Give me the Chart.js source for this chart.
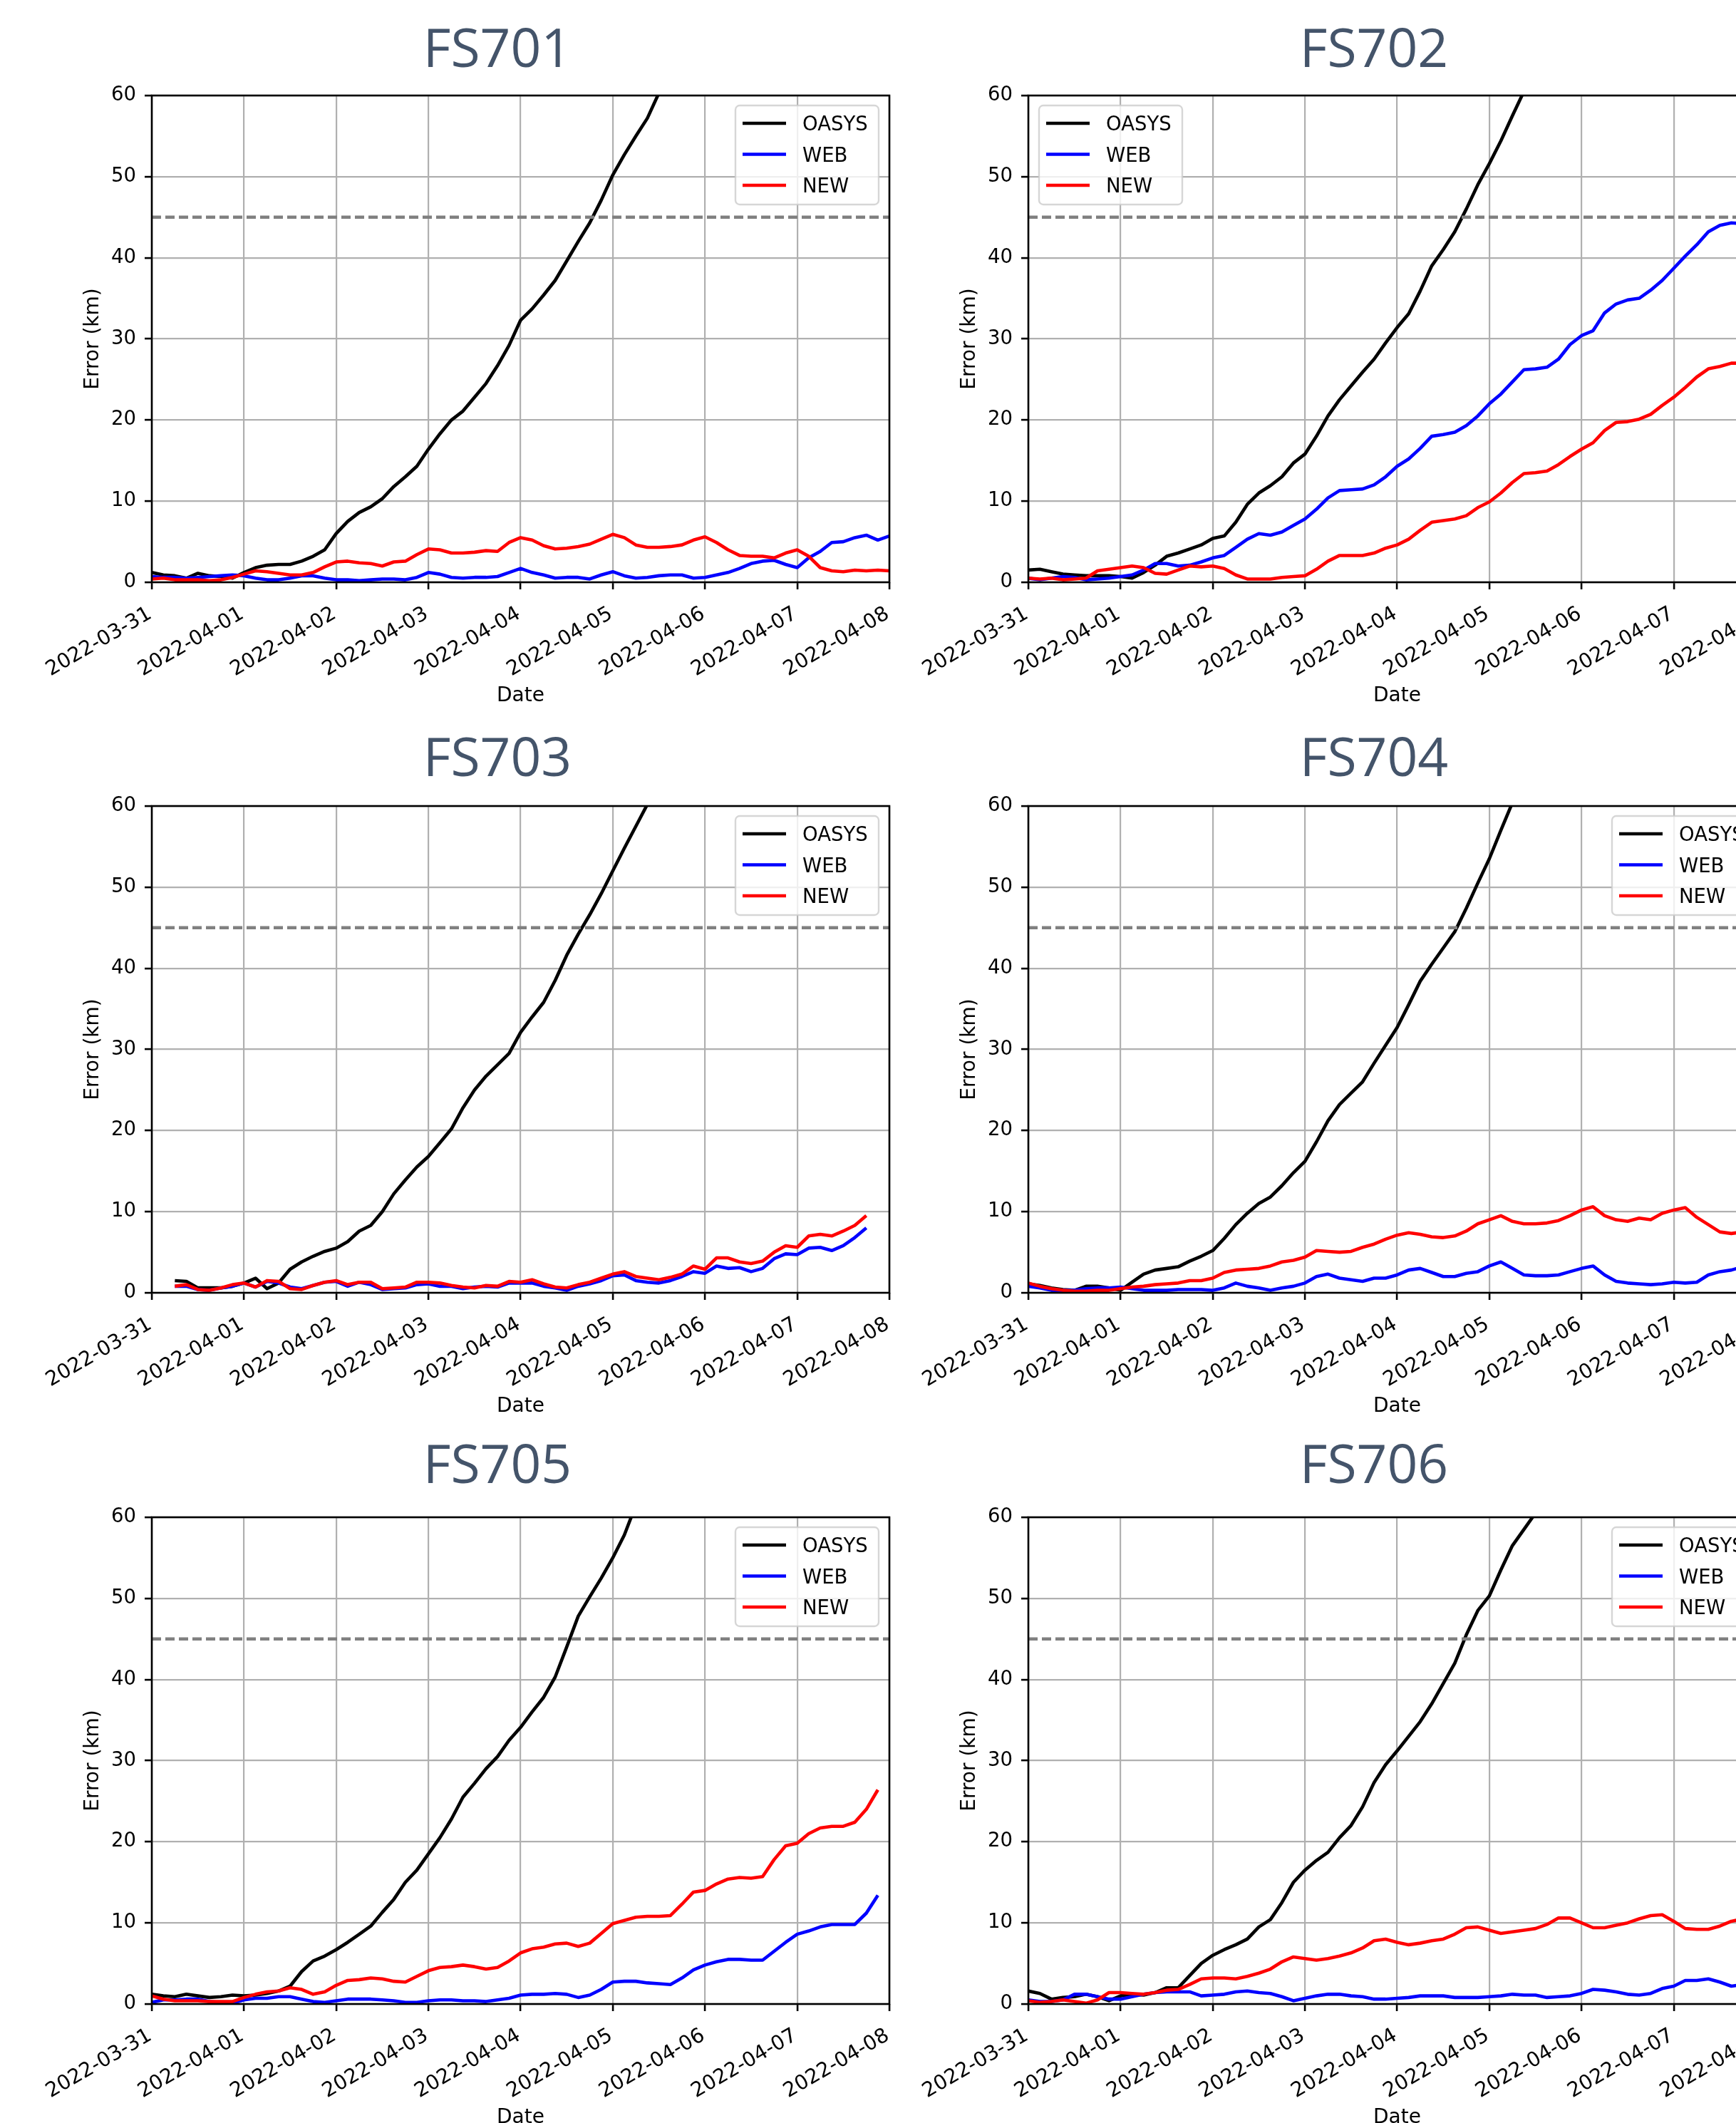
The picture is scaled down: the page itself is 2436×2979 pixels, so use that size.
<!DOCTYPE html>
<html>
<head>
<meta charset="utf-8">
<script src="https://cdn.jsdelivr.net/npm/chart.js@4.4.1/dist/chart.umd.min.js"></script>
<style>
html, body { margin:0; padding:0; background:#ffffff; overflow:hidden; width:2436px; height:2979px; }
body { position:relative; }
canvas { position:absolute; }
</style>
</head>
<body>
<canvas id="c701"></canvas>
<canvas id="c702"></canvas>
<canvas id="c703"></canvas>
<canvas id="c704"></canvas>
<canvas id="c705"></canvas>
<canvas id="c706"></canvas>
<script>
// ---------- DATA ----------
// time axis: hours since 2022-03-31 00:00, one sample every 3 h
const hours = [0,3,6,9,12,15,18,21, 24,27,30,33,36,39,42,45, 48,51,54,57,60,63,66,69,
  72,75,78,81,84,87,90,93, 96,99,102,105,108,111,114,117, 120,123,126,129,132,135,138,141,
  144,147,150,153,156,159,162,165, 168,171,174,177,180,183,186,189, 192];
const dayTickLabels = ['2022-03-31','2022-04-01','2022-04-02','2022-04-03','2022-04-04',
  '2022-04-05','2022-04-06','2022-04-07','2022-04-08'];
const seriesNames = ['OASYS','WEB','NEW'];
const panelTitles = ['FS701','FS702','FS703','FS704','FS705','FS706'];
const thresholdKm = 45;
const N = null;

const fs701_oasys = [1.2,0.9,0.8,0.5,1.1,0.8,0.7,0.5, 1.2,1.8,2.1,2.2,2.2,2.6,3.2,4.0,
  6.0,7.5,8.6,9.3,10.3,11.8,13.0,14.3, 16.4,18.3,20.0,21.1,22.8,24.5,26.7,29.2,
  32.3,33.7,35.4,37.2,39.6,42.0,44.3,47.1, 50.2,52.7,55.0,57.2,60.3,63.0,N,N,
  N,N,N,N,N,N,N,N, N,N,N,N,N,N,N,N, N];
const fs701_web = [0.7,0.6,0.6,0.5,0.6,0.7,0.8,0.9, 0.8,0.5,0.3,0.3,0.5,0.8,0.8,0.5,
  0.3,0.3,0.2,0.3,0.4,0.4,0.3,0.6, 1.2,1.0,0.6,0.5,0.6,0.6,0.7,1.2,
  1.7,1.2,0.9,0.5,0.6,0.6,0.4,0.9, 1.3,0.8,0.5,0.6,0.8,0.9,0.9,0.5,
  0.6,0.9,1.2,1.7,2.3,2.6,2.7,2.2, 1.8,3.0,3.8,4.9,5.0,5.5,5.8,5.2, 5.7];
const fs701_new = [0.4,0.5,0.3,0.3,0.3,0.2,0.3,0.6, 1.0,1.4,1.3,1.1,0.9,0.9,1.2,1.9,
  2.5,2.6,2.4,2.3,2.0,2.5,2.6,3.4, 4.1,4.0,3.6,3.6,3.7,3.9,3.8,4.9,
  5.5,5.2,4.5,4.1,4.2,4.4,4.7,5.3, 5.9,5.5,4.6,4.3,4.3,4.4,4.6,5.2,
  5.6,4.9,4.0,3.3,3.2,3.2,3.0,3.6, 4.0,3.2,1.8,1.4,1.3,1.5,1.4,1.5, 1.4];

const fs702_oasys = [1.5,1.6,1.3,1.0,0.9,0.8,0.8,0.8, 0.7,0.5,1.2,2.1,3.2,3.6,4.1,4.6,
  5.4,5.7,7.4,9.6,11.0,11.9,13.0,14.7, 15.8,18.0,20.5,22.5,24.2,25.9,27.5,29.5,
  31.4,33.1,35.9,39.0,41.0,43.2,46.0,49.0, 51.6,54.4,57.5,60.5,63.0,N,N,N,
  N,N,N,N,N,N,N,N, N,N,N,N,N,N,N,N, N];
const fs702_web = [0.5,0.3,0.5,0.7,0.6,0.3,0.4,0.5, 0.7,0.9,1.5,2.3,2.3,2.0,2.1,2.5,
  3.0,3.3,4.3,5.3,6.0,5.8,6.2,7.0, 7.8,9.0,10.4,11.3,11.4,11.5,12.0,13.0,
  14.3,15.2,16.5,18.0,18.2,18.5,19.3,20.5, 22.0,23.2,24.7,26.2,26.3,26.5,27.5,29.3,
  30.4,31.0,33.2,34.3,34.8,35.0,36.0,37.2, 38.7,40.2,41.6,43.2,44.0,44.3,44.2,44.6, 45.0];
const fs702_new = [0.5,0.4,0.5,0.3,0.4,0.5,1.4,1.6, 1.8,2.0,1.8,1.1,1.0,1.5,2.0,1.9,
  2.0,1.7,0.9,0.4,0.4,0.4,0.6,0.7, 0.8,1.6,2.6,3.3,3.3,3.3,3.6,4.2,
  4.6,5.3,6.4,7.4,7.6,7.8,8.2,9.2, 9.9,11.0,12.3,13.4,13.5,13.7,14.5,15.5,
  16.4,17.2,18.7,19.7,19.8,20.1,20.7,21.8, 22.8,24.0,25.3,26.3,26.6,27.0,27.0,27.4, 27.8];

const fs703_oasys = [N,N,1.5,1.4,0.6,0.6,0.6,0.8, 1.2,1.8,0.5,1.2,2.9,3.8,4.5,5.1,
  5.5,6.3,7.6,8.3,10.0,12.2,13.9,15.5, 16.8,18.5,20.2,22.8,25.0,26.7,28.1,29.5,
  32.1,34.0,35.8,38.5,41.6,44.2,46.6,49.2, 52.0,54.8,57.5,60.2,63.0,N,N,N,
  N,N,N,N,N,N,N,N, N,N,N,N,N,N,N,N, N];
const fs703_web = [N,N,0.8,0.8,0.4,0.3,0.6,0.8, 1.2,0.7,1.4,1.2,0.7,0.5,0.9,1.3,
  1.4,0.8,1.3,1.0,0.4,0.5,0.6,1.0, 1.1,0.8,0.8,0.5,0.7,0.8,0.7,1.2,
  1.2,1.2,0.8,0.6,0.3,0.8,1.1,1.5, 2.1,2.2,1.5,1.3,1.2,1.5,2.0,2.6,
  2.4,3.3,3.0,3.1,2.6,3.0,4.2,4.8, 4.7,5.5,5.6,5.2,5.8,6.8,8.0,N, N];
const fs703_new = [N,N,0.8,1.0,0.4,0.3,0.6,1.0, 1.2,0.7,1.5,1.4,0.5,0.4,0.9,1.3,
  1.5,1.0,1.3,1.3,0.5,0.6,0.7,1.3, 1.3,1.2,0.9,0.7,0.6,0.9,0.8,1.4,
  1.3,1.6,1.1,0.7,0.6,1.0,1.3,1.8, 2.3,2.6,2.0,1.8,1.6,1.9,2.3,3.3,
  2.9,4.3,4.3,3.8,3.6,3.9,5.0,5.8, 5.6,7.0,7.2,7.0,7.6,8.3,9.5,N, N];

const fs704_oasys = [1.1,0.9,0.6,0.4,0.3,0.8,0.8,0.6, 0.3,1.3,2.3,2.8,3.0,3.2,3.9,4.5,
  5.2,6.7,8.4,9.8,11.0,11.8,13.2,14.8, 16.2,18.6,21.2,23.2,24.6,26.0,28.3,30.5,
  32.7,35.5,38.4,40.5,42.5,44.5,47.4,50.5, 53.5,57.0,60.4,63.0,N,N,N,N,
  N,N,N,N,N,N,N,N, N,N,N,N,N,N,N,N, N];
const fs704_web = [0.8,0.6,0.3,0.3,0.3,0.5,0.6,0.6, 0.7,0.5,0.3,0.3,0.3,0.4,0.4,0.4,
  0.3,0.6,1.2,0.8,0.6,0.3,0.6,0.8, 1.2,2.0,2.3,1.8,1.6,1.4,1.8,1.8,
  2.2,2.8,3.0,2.5,2.0,2.0,2.4,2.6, 3.3,3.8,3.0,2.2,2.1,2.1,2.2,2.6,
  3.0,3.3,2.2,1.4,1.2,1.1,1.0,1.1, 1.3,1.2,1.3,2.2,2.6,2.8,3.2,3.5, 3.5];
const fs704_new = [1.2,0.8,0.5,0.3,0.2,0.2,0.3,0.3, 0.5,0.7,0.8,1.0,1.1,1.2,1.5,1.5,
  1.8,2.5,2.8,2.9,3.0,3.3,3.8,4.0, 4.4,5.2,5.1,5.0,5.1,5.6,6.0,6.6,
  7.1,7.4,7.2,6.9,6.8,7.0,7.6,8.5, 9.0,9.5,8.8,8.5,8.5,8.6,8.9,9.5,
  10.2,10.6,9.5,9.0,8.8,9.2,9.0,9.8, 10.2,10.5,9.3,8.4,7.5,7.3,7.5,7.3, 7.6];

const fs705_oasys = [1.2,1.0,0.9,1.2,1.0,0.8,0.9,1.1, 1.0,1.1,1.3,1.6,2.2,4.0,5.3,5.9,
  6.7,7.6,8.6,9.6,11.3,12.9,15.0,16.5, 18.5,20.5,22.8,25.5,27.2,29.0,30.5,32.5,
  34.1,36.0,37.8,40.3,44.0,47.8,50.2,52.5, 55.0,57.8,61.5,N,N,N,N,N,
  N,N,N,N,N,N,N,N, N,N,N,N,N,N,N,N, N];
const fs705_web = [0.2,0.5,0.5,0.6,0.6,0.3,0.2,0.1, 0.5,0.7,0.7,0.9,0.9,0.6,0.3,0.2,
  0.4,0.6,0.6,0.6,0.5,0.4,0.2,0.2, 0.4,0.5,0.5,0.4,0.4,0.3,0.5,0.7,
  1.1,1.2,1.2,1.3,1.2,0.8,1.1,1.8, 2.7,2.8,2.8,2.6,2.5,2.4,3.2,4.2,
  4.8,5.2,5.5,5.5,5.4,5.4,6.5,7.6, 8.6,9.0,9.5,9.8,9.8,9.8,11.2,13.4, N];
const fs705_new = [1.0,0.6,0.4,0.4,0.4,0.3,0.3,0.3, 0.8,1.2,1.5,1.6,2.0,1.8,1.2,1.5,
  2.3,2.9,3.0,3.2,3.1,2.8,2.7,3.4, 4.1,4.5,4.6,4.8,4.6,4.3,4.5,5.3,
  6.3,6.8,7.0,7.4,7.5,7.1,7.5,8.7, 9.9,10.3,10.7,10.8,10.8,10.9,12.3,13.8,
  14.0,14.8,15.4,15.6,15.5,15.7,17.8,19.5, 19.8,21.0,21.7,21.9,21.9,22.4,24.0,26.4, N];

const fs706_oasys = [1.6,1.3,0.6,0.8,0.9,1.2,0.9,0.4, 1.0,1.2,1.1,1.4,2.0,2.0,3.5,5.0,
  6.0,6.7,7.3,8.0,9.5,10.4,12.5,15.0, 16.5,17.7,18.7,20.5,22.0,24.3,27.3,29.5,
  31.2,33.0,34.8,37.0,39.5,42.0,45.5,48.5, 50.3,53.5,56.5,58.5,60.5,63.0,N,N,
  N,N,N,N,N,N,N,N, N,N,N,N,N,N,N,N, N];
const fs706_web = [0.5,0.3,0.3,0.5,1.2,1.2,0.9,0.6, 0.6,0.9,1.2,1.4,1.5,1.5,1.5,1.0,
  1.1,1.2,1.5,1.6,1.4,1.3,0.9,0.4, 0.7,1.0,1.2,1.2,1.0,0.9,0.6,0.6,
  0.7,0.8,1.0,1.0,1.0,0.8,0.8,0.8, 0.9,1.0,1.2,1.1,1.1,0.8,0.9,1.0,
  1.3,1.8,1.7,1.5,1.2,1.1,1.3,1.9, 2.2,2.9,2.9,3.1,2.7,2.2,2.4,2.6, 2.5];
const fs706_new = [0.4,0.2,0.3,0.5,0.3,0.1,0.5,1.4, 1.4,1.3,1.2,1.4,1.7,1.8,2.4,3.1,
  3.2,3.2,3.1,3.4,3.8,4.3,5.2,5.8, 5.6,5.4,5.6,5.9,6.3,6.9,7.8,8.0,
  7.6,7.3,7.5,7.8,8.0,8.6,9.4,9.5, 9.1,8.7,8.9,9.1,9.3,9.8,10.6,10.6,
  10.0,9.4,9.4,9.7,10.0,10.5,10.9,11.0, 10.2,9.3,9.2,9.2,9.6,10.2,10.5,10.8, 11.0];

// ---------- LAYOUT / STYLE ----------
const seriesColors = ['#000000', '#0000ff', '#ff0000'];
const CW = 1290, CH = 990;
const colLeft = [0, 1230];
const rowTop = [0, 997, 1995];
const titleBaseline = [94, 92, 86];

const panels = [
  { id:'c701', title:panelTitles[0], col:0, row:0, legend:'right', series:[fs701_oasys, fs701_web, fs701_new] },
  { id:'c702', title:panelTitles[1], col:1, row:0, legend:'left',  series:[fs702_oasys, fs702_web, fs702_new] },
  { id:'c703', title:panelTitles[2], col:0, row:1, legend:'right', series:[fs703_oasys, fs703_web, fs703_new] },
  { id:'c704', title:panelTitles[3], col:1, row:1, legend:'right', series:[fs704_oasys, fs704_web, fs704_new] },
  { id:'c705', title:panelTitles[4], col:0, row:2, legend:'right', series:[fs705_oasys, fs705_web, fs705_new] },
  { id:'c706', title:panelTitles[5], col:1, row:2, legend:'right', series:[fs706_oasys, fs706_web, fs706_new] }
];

const XTICK_FONT = '28.5px "DejaVu Sans"';
const LEGEND_FONT = '27.5px "DejaVu Sans"';
const LABEL_FONT = '28px "DejaVu Sans"';

const mplDecor = {
  id: 'mplDecor',
  afterDraw(chart) {
    const o = chart.options.plugins.mplDecor;
    const ctx = chart.ctx, a = chart.chartArea, xs = chart.scales.x;
    ctx.save();
    // frame (spines)
    ctx.strokeStyle = '#000'; ctx.lineWidth = 2.6;
    ctx.strokeRect(a.left, a.top, a.right - a.left, a.bottom - a.top);

    // x tick labels, rotated 30 degrees, right-aligned at the tick
    ctx.fillStyle = '#000'; ctx.font = XTICK_FONT;
    dayTickLabels.forEach((lab, i) => {
      const x = xs.getPixelForValue(i * 24);
      ctx.save();
      ctx.translate(x - 9, a.bottom + 31);
      ctx.rotate(-Math.PI / 6);
      ctx.textAlign = 'right'; ctx.textBaseline = 'alphabetic';
      ctx.fillText(lab, 0, 20.8);
      ctx.restore();
    });

    // axis titles
    ctx.font = LABEL_FONT; ctx.textAlign = 'center'; ctx.textBaseline = 'alphabetic';
    ctx.fillText('Date', (a.left + a.right) / 2, a.bottom + 167);
    ctx.save();
    ctx.translate(138, (a.top + a.bottom) / 2);
    ctx.rotate(-Math.PI / 2);
    ctx.fillText('Error (km)', 0, 0);
    ctx.restore();

    // legend
    const lw = 201, lh = 139;
    const lx = o.legend === 'left' ? a.left + 15 : a.right - 15 - lw;
    const ly = a.top + 14;
    ctx.beginPath();
    if (ctx.roundRect) ctx.roundRect(lx, ly, lw, lh, 6); else ctx.rect(lx, ly, lw, lh);
    ctx.fillStyle = 'rgba(255,255,255,0.8)'; ctx.fill();
    ctx.strokeStyle = 'rgba(204,204,204,0.8)'; ctx.lineWidth = 2.4; ctx.stroke();
    ctx.font = LEGEND_FONT; ctx.textAlign = 'left'; ctx.textBaseline = 'alphabetic';
    seriesNames.forEach((name, k) => {
      const y = ly + 25 + k * 43.5;
      ctx.strokeStyle = seriesColors[k]; ctx.lineWidth = 4.5;
      ctx.beginPath(); ctx.moveTo(lx + 10, y); ctx.lineTo(lx + 71, y); ctx.stroke();
      ctx.fillStyle = '#000';
      ctx.fillText(name, lx + 94, y + 10);
    });

    // panel title
    ctx.fillStyle = '#44546A'; ctx.font = '75px "Open Sans"';
    ctx.textAlign = 'center'; ctx.textBaseline = 'alphabetic';
    ctx.fillText(o.title, 698, o.titleBaseline);
    ctx.restore();
  }
};

function gridOpts() {
  return { color:'#b0b0b0', lineWidth:2.2, tickColor:'#000', tickLength:10, tickWidth:2.6, drawTicks:true };
}

panels.forEach(p => {
  const cv = document.getElementById(p.id);
  cv.width = CW; cv.height = CH;
  cv.style.left = colLeft[p.col] + 'px';
  cv.style.top = rowTop[p.row] + 'px';
  const datasets = p.series.map((vals, k) => ({
    label: seriesNames[k],
    data: hours.map((h, i) => ({ x: h, y: vals[i] })),
    borderColor: seriesColors[k],
    backgroundColor: seriesColors[k],
    borderWidth: 4.6,
    pointRadius: 0,
    tension: 0,
    fill: false,
    spanGaps: false,
    borderJoinStyle: 'round',
    clip: 0,
    order: 3 - k
  }));
  datasets.push({
    label: 'threshold',
    data: [{ x: hours[0], y: thresholdKm }, { x: hours[hours.length - 1], y: thresholdKm }],
    borderColor: '#808080',
    borderWidth: 4.6,
    borderDash: [13, 6],
    pointRadius: 0,
    fill: false,
    clip: 0,
    order: 0
  });
  new Chart(cv, {
    type: 'line',
    data: { datasets },
    plugins: [mplDecor],
    options: {
      responsive: false,
      animation: false,
      devicePixelRatio: 1,
      events: [],
      layout: { padding: { top: 134, right: CW - 1248, bottom: 0, left: 0 } },
      plugins: {
        legend: { display: false },
        tooltip: { enabled: false },
        title: { display: false },
        mplDecor: { title: p.title, legend: p.legend, titleBaseline: titleBaseline[p.row] }
      },
      scales: {
        x: {
          type: 'linear', min: 0, max: 192,
          afterFit: s => { s.height = CH - 817; },
          afterBuildTicks: s => { s.ticks = dayTickLabels.map((_, i) => ({ value: i * 24 })); },
          ticks: { display: false, stepSize: 24 },
          grid: gridOpts(),
          border: { display: false }
        },
        y: {
          type: 'linear', min: 0, max: 60,
          afterFit: s => { s.width = 213; },
          ticks: { stepSize: 10, color: '#000', padding: 12, font: { family: 'DejaVu Sans', size: 27.5 } },
          grid: gridOpts(),
          border: { display: false }
        }
      }
    }
  });
});
</script>
</body>
</html>
